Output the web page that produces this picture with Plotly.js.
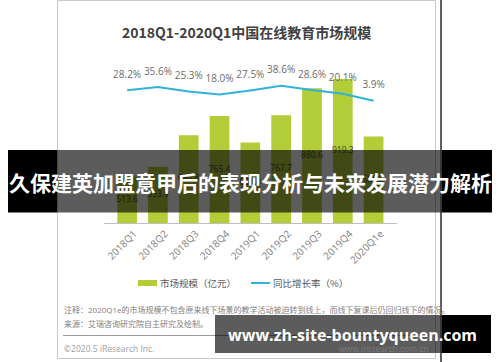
<!DOCTYPE html>
<html>
<head>
<meta charset="utf-8">
<script src="https://cdn.plot.ly/plotly-3.0.1.min.js"></script>
<style>html,body{margin:0;padding:0;background:#fff;}#chart{width:500px;height:362px;}</style>
</head>
<body>
<div id="chart"></div>
<script>
// ---- data ----
const categories = ['2018Q1','2018Q2','2018Q3','2018Q4','2019Q1','2019Q2','2019Q3','2019Q4','2020Q1e'];
const marketSize = [513.6, 553.9, 684.8, 765.4, 654.8, 767.7, 880.6, 919.3, 680.3];   // 亿元
const growthRate = [28.2, 35.6, 25.3, 18.0, 27.5, 38.6, 28.6, 20.1, 3.9];            // %
const titleText = '2018Q1-2020Q1中国在线教育市场规模';
const legendBar = '市场规模（亿元）';
const legendLine = '同比增长率（%）';
const noteText = '注释：2020Q1e的市场规模不包含原来线下场景的教学活动被迫转到线上，而线下复课后仍回归线下的情况。';
const sourceText = '来源：艾瑞咨询研究院自主研究及绘制。';
const copyrightText = '©2020.5 iResearch Inc.';
const siteText = 'www.iresearch.com.cn';
const bannerText = '久保建英加盟意甲后的表现分析与未来发展潜力解析';
const watermarkText = 'www.zh-site-bountyqueen.com';

// ---- axis settings ----
const Y1_MIN = 320, Y1_MAX = 998;
const Y2_MIN = -279.2, Y2_MAX = 98.1;

// ---- layout helpers (page pixels -> paper fractions) ----
const W = 500, H = 362;
const X = px => px / W;
const Y = py => 1 - py / H;

const GREEN = '#b3cd38';
const BLUE = '#2fb3d9';
const CJK = '"Open Sans", "Noto Sans CJK SC", sans-serif';

const barTrace = {
  type: 'bar',
  x: categories,
  y: marketSize,
  marker: {color: GREEN},
  hoverinfo: 'skip',
  showlegend: false
};
// value labels centred in the visible part of each bar
const barLabelTrace = {
  type: 'scatter',
  mode: 'text',
  x: categories,
  y: marketSize.map(v => (v + Y1_MIN) / 2),
  text: marketSize.map(v => v.toFixed(1)),
  textposition: 'middle center',
  textfont: {family: CJK, size: 8.5, color: '#404040'},
  hoverinfo: 'skip',
  showlegend: false
};
const lineTrace = {
  type: 'scatter',
  mode: 'lines+markers+text',
  x: categories,
  y: growthRate,
  yaxis: 'y2',
  line: {color: BLUE, width: 2},
  marker: {size: 14, opacity: 0, color: BLUE},
  text: growthRate.map(v => v.toFixed(1) + '%'),
  textposition: 'top center',
  textfont: {family: CJK, size: 10, color: '#6b6b6b'},
  cliponaxis: false,
  hoverinfo: 'skip',
  showlegend: false
};

const shapes = [
  // card border
  {type:'rect', xref:'paper', yref:'paper', x0:X(57.5), x1:X(435.5), y0:Y(358.5), y1:Y(0.5), line:{color:'#c8c8c8', width:1}, layer:'below'},
  // footer separator
  {type:'line', xref:'paper', yref:'paper', x0:X(63), x1:X(430), y0:Y(335.5), y1:Y(335.5), line:{color:'#9a9a9a', width:1}, layer:'above'},
  // legend swatches
  {type:'rect', xref:'paper', yref:'paper', x0:X(138), x1:X(157), y0:Y(286), y1:Y(280), fillcolor:GREEN, line:{width:0}, layer:'above'},
  {type:'line', xref:'paper', yref:'paper', x0:X(251), x1:X(270), y0:Y(283), y1:Y(283), line:{color:BLUE, width:2}, layer:'above'},
  // banner overlay
  {type:'rect', xref:'paper', yref:'paper', x0:X(8), x1:X(57), y0:Y(212.5), y1:Y(150), fillcolor:'#000', line:{width:0}, layer:'above'},
  {type:'rect', xref:'paper', yref:'paper', x0:X(57), x1:X(441.5), y0:Y(212.5), y1:Y(150), fillcolor:'rgba(0,0,0,0.64)', line:{width:0}, layer:'above'},
  {type:'rect', xref:'paper', yref:'paper', x0:X(441.5), x1:X(492), y0:Y(212.5), y1:Y(150), fillcolor:'#000', line:{width:0}, layer:'above'},
  // watermark overlay
  {type:'rect', xref:'paper', yref:'paper', x0:X(215), x1:X(441.5), y0:Y(353), y1:Y(315), fillcolor:'rgba(0,0,0,0.64)', line:{width:0}, layer:'above'},
  {type:'rect', xref:'paper', yref:'paper', x0:X(441.5), x1:X(491), y0:Y(353), y1:Y(315), fillcolor:'#000', line:{width:0}, layer:'above'},
  // right dark edge line
  {type:'line', xref:'paper', yref:'paper', x0:X(441), x1:X(441), y0:0, y1:1, line:{color:'#2a2a2a', width:1.5}, layer:'above'}
];

const annotations = [
  {xref:'paper', yref:'paper', x:X(246), y:Y(32), text:'<b>'+titleText+'</b>', showarrow:false, xanchor:'center', yanchor:'middle',
   font:{family:'"Noto Sans CJK SC", sans-serif', size:14, color:'#404040'}},
  {xref:'paper', yref:'paper', x:X(158), y:Y(283), text:legendBar, showarrow:false, xanchor:'left', yanchor:'middle',
   font:{family:'"Noto Sans CJK SC", sans-serif', size:9.5, color:'#595959'}},
  {xref:'paper', yref:'paper', x:X(271), y:Y(283), text:legendLine, showarrow:false, xanchor:'left', yanchor:'middle',
   font:{family:'"Noto Sans CJK SC", sans-serif', size:9.5, color:'#595959'}},
  {xref:'paper', yref:'paper', x:X(62), y:Y(309), text:noteText, showarrow:false, xanchor:'left', yanchor:'middle',
   font:{family:CJK, size:8, color:'#808080'}},
  {xref:'paper', yref:'paper', x:X(62), y:Y(323), text:sourceText, showarrow:false, xanchor:'left', yanchor:'middle',
   font:{family:CJK, size:8, color:'#808080'}},
  {xref:'paper', yref:'paper', x:X(62), y:Y(348), text:copyrightText, showarrow:false, xanchor:'left', yanchor:'middle',
   font:{family:CJK, size:8.5, color:'#a0a0a0'}},
  {xref:'paper', yref:'paper', x:X(431), y:Y(348), text:siteText, showarrow:false, xanchor:'right', yanchor:'middle',
   font:{family:CJK, size:8.5, color:'#7a7a7a'}},
  {xref:'paper', yref:'paper', x:X(250), y:Y(182), text:'<b>'+bannerText+'</b>', showarrow:false, xanchor:'center', yanchor:'middle',
   font:{family:'"Noto Sans CJK SC", sans-serif', size:21, color:'#ffffff'}},
  {xref:'paper', yref:'paper', x:X(352), y:Y(335), text:'<b>'+watermarkText+'</b>', showarrow:false, xanchor:'center', yanchor:'middle',
   font:{family:'"Open Sans", sans-serif', size:16, color:'#ffffff'}}
];

const layout = {
  width: W, height: H,
  margin: {l:0, r:0, t:0, b:0},
  paper_bgcolor: '#ffffff',
  plot_bgcolor: 'rgba(0,0,0,0)',
  bargap: 0.36,
  showlegend: false,
  xaxis: {
    domain: [X(103.7), X(397)],
    type: 'category',
    tickangle: -45,
    tickfont: {family: CJK, size: 10, color: '#7f7f7f'},
    showline: true, linecolor: '#bfbfbf', linewidth: 1,
    ticks: '', showgrid: false, zeroline: false,
    ticklabelshift: 7,
    automargin: false
  },
  yaxis: {domain: [Y(223), Y(60)], range: [Y1_MIN, Y1_MAX], visible: false, fixedrange: true},
  yaxis2: {overlaying: 'y', range: [Y2_MIN, Y2_MAX], visible: false, fixedrange: true},
  shapes: shapes,
  annotations: annotations
};

Plotly.newPlot('chart', [barTrace, barLabelTrace, lineTrace], layout, {displayModeBar: false, staticPlot: true});
</script>
</body>
</html>
